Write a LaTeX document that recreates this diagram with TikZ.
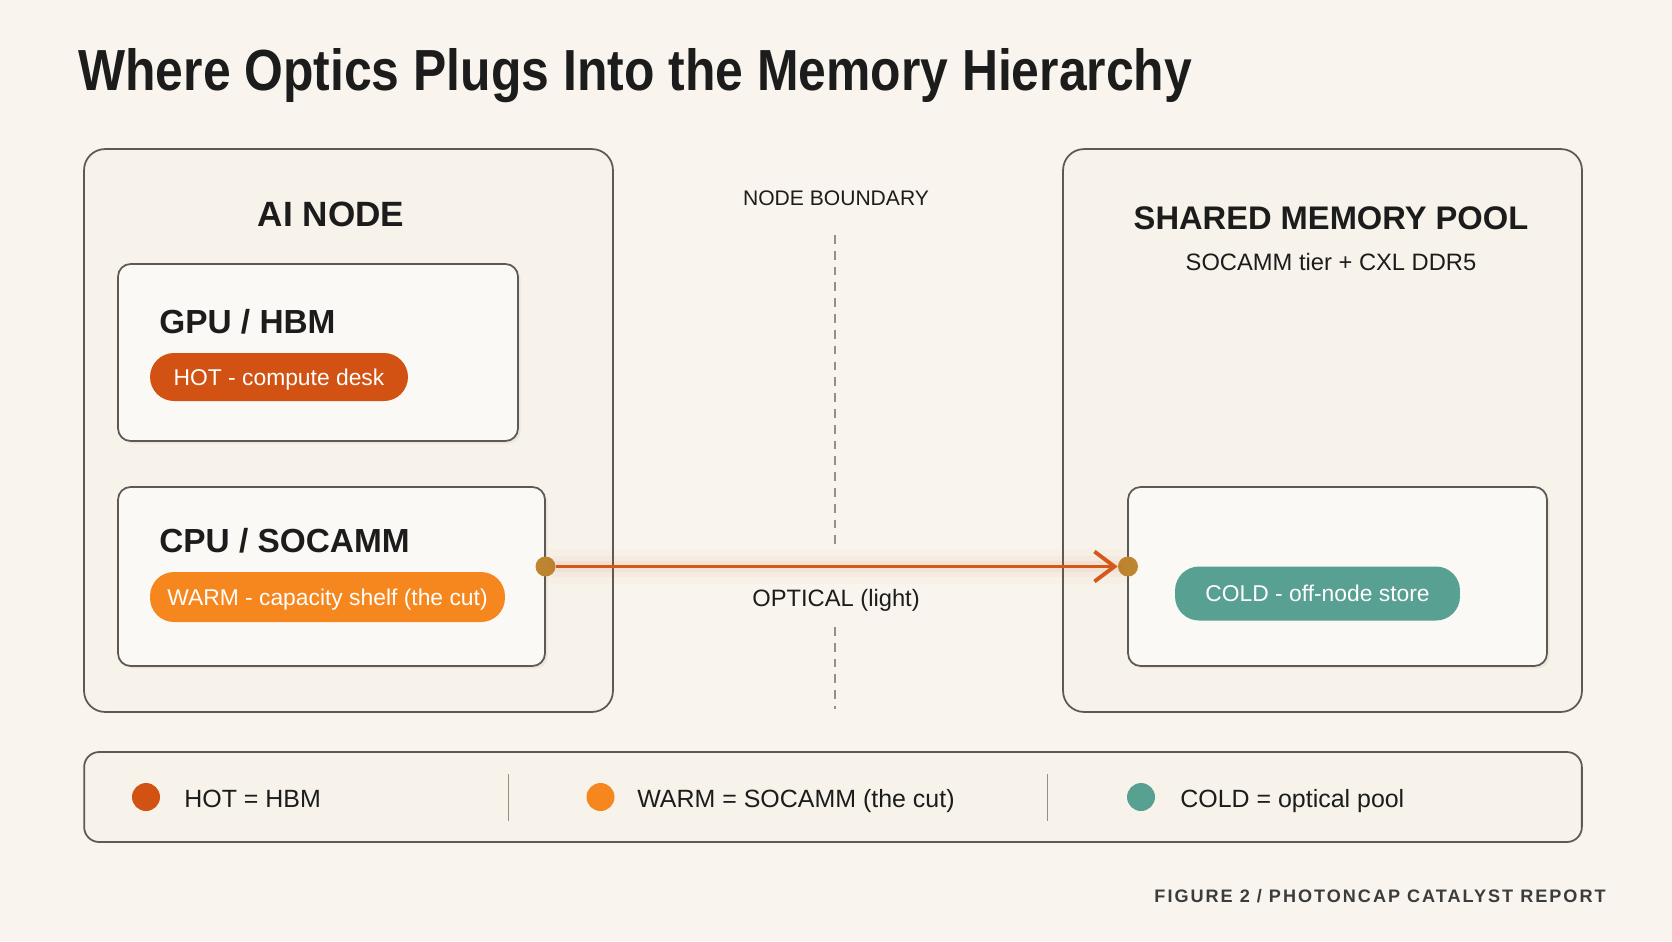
\documentclass[tikz,border=0pt]{standalone}
\usepackage{fontspec}
\setmainfont{Liberation Sans}
\newfontfamily\titlefont[FakeStretch=0.86]{Liberation Sans Bold}
\newfontfamily\footfont[LetterSpace=11]{Liberation Sans Bold}
\usetikzlibrary{arrows.meta, positioning, shadows}
\definecolor{paper}{RGB}{249,245,238}
\definecolor{panelcol}{RGB}{247,243,235}
\definecolor{unitcol}{RGB}{251,249,245}
\definecolor{edgecol}{RGB}{94,89,83}
\definecolor{ink}{RGB}{28,28,28}
\definecolor{hotcol}{RGB}{210,82,20}
\definecolor{warmcol}{RGB}{246,134,30}
\definecolor{coldcol}{RGB}{88,160,146}
\definecolor{portcol}{RGB}{190,135,50}
\definecolor{wire}{RGB}{214,88,24}
\definecolor{dashcol}{RGB}{150,143,134}
\definecolor{footcol}{RGB}{60,60,60}

\begin{document}
\begin{tikzpicture}[
    x=0.02cm, y=-0.02cm,
    panel/.style={draw=edgecol, line width=1pt, fill=panelcol, rounded corners=0.42cm},
    unit/.style={draw=edgecol, line width=1pt, fill=unitcol, rounded corners=0.25cm, drop shadow={opacity=0.10, shadow xshift=1.5pt, shadow yshift=-1.5pt}},
    pill/.style={rounded corners=0.48cm, text=white, font=\fontsize{13}{15}\selectfont, text height=9.4pt, text depth=0pt, inner sep=0pt},
    head/.style={font=\fontsize{19}{22}\selectfont\bfseries, text=ink, inner sep=0pt},
    note/.style={font=\fontsize{13.5}{16}\selectfont, text=ink, inner sep=0pt},
    legtext/.style={font=\fontsize{14.2}{17}\selectfont, text=ink, inner sep=0pt, anchor=base west},
    port/.style={circle, fill=portcol, inner sep=0pt, minimum size=0.4cm},
    swatch/.style={circle, inner sep=0pt, minimum size=0.56cm},
    boundary/.style={draw=dashcol, line width=0.8pt, dash pattern=on 5pt off 4pt},
    arrow/.style={-{Straight Barb[length=4mm, width=6mm]}, line width=2.2pt, draw=wire}
]
    \useasboundingbox (0,0) rectangle (1672,941);
    \fill[paper] (0,0) rectangle (1672,941);

    % Title
    \node[anchor=base west, inner sep=0pt, text=ink, font=\titlefont\fontsize{33}{38}\selectfont] (title) at (78,90) {Where Optics Plugs Into the Memory Hierarchy};

    % Outer panels
    \node[panel, minimum width=10.58cm, minimum height=11.26cm] (ainode) at (348.5,430.5) {};
    \node[panel, minimum width=10.38cm, minimum height=11.26cm] (pool) at (1322.5,430.5) {};
    \node[head, font=\fontsize{20}{24}\selectfont\bfseries, anchor=base] (aititle) at (331,226) {AI NODE};
    \node[head, font=\fontsize{18.6}{22}\selectfont\bfseries, anchor=base] (pooltitle) at (1331,229) {SHARED MEMORY POOL};
    \node[note, anchor=base] (poolsub) at (1331,270) {SOCAMM tier + CXL DDR5};

    % Memory tiers
    \node[unit, minimum width=8cm, minimum height=3.54cm] (gpu) at (318,352.5) {};
    \node[unit, minimum width=8.54cm, minimum height=3.58cm] (cpu) at (331.5,576.5) {};
    \node[unit, minimum width=8.38cm, minimum height=3.58cm] (cold) at (1337.5,576.5) {};

    \node[head, anchor=base west] (gputitle) at (159,333) {GPU / HBM};
    \node[head, anchor=base west] (cputitle) at (159,552) {CPU / SOCAMM};

    \node[pill, fill=hotcol, minimum width=5.16cm, minimum height=0.96cm] (hot) at (279,377) {HOT - compute desk};
    \node[pill, fill=warmcol, minimum width=7.1cm, minimum height=1cm] (warm) at (327.5,597) {WARM - capacity shelf (the cut)};
    \node[pill, fill=coldcol, minimum width=5.7cm, minimum height=1.08cm] (coldpill) at (1317.5,593.5) {COLD - off-node store};

    % Node boundary
    \node[note, font=\fontsize{12}{14}\selectfont, anchor=base] (boundlbl) at (836,205) {NODE BOUNDARY};
    \coordinate (bnd1) at (835,235);
    \coordinate (bnd2) at (835,550);
    \coordinate (bnd3) at (835,627);
    \coordinate (bnd4) at (835,709);
    \draw[boundary] (bnd1) -- (bnd2);
    \draw[boundary] (bnd3) -- (bnd4);

    % Optical link
    \node[port] (outport) at (545.5,566.5) {};
    \node[port] (inport) at (1128,566.5) {};
    \draw[wire, line width=20pt, line cap=round, opacity=0.025] (outport) -- (inport);
    \draw[wire, line width=12pt, line cap=round, opacity=0.035] (outport) -- (inport);
    \draw[wire, line width=6pt, line cap=round, opacity=0.05] (outport) -- (inport);
    \draw[arrow] (outport) -- (inport);
    \node[note, anchor=base] (optlbl) at (836,606) {OPTICAL (light)};

    % Legend
    \node[panel, rounded corners=0.3cm, minimum width=29.96cm, minimum height=1.8cm] (legend) at (833,797) {};
    \node[swatch, fill=hotcol] (hotdot) at (146,797) {};
    \node[swatch, fill=warmcol] (warmdot) at (600.5,797) {};
    \node[swatch, fill=coldcol] (colddot) at (1141,797) {};
    \node[legtext] (hotkey) at (184,807) {HOT = HBM};
    \node[legtext] (warmkey) at (637,807) {WARM = SOCAMM (the cut)};
    \node[legtext] (coldkey) at (1180,807) {COLD = optical pool};
    \draw[dashcol, line width=0.8pt] (508.5,774) -- (508.5,821);
    \draw[dashcol, line width=0.8pt] (1047.5,774) -- (1047.5,821);

    % Footer
    \node[anchor=base east, inner sep=0pt, text=footcol, font=\footfont\fontsize{10.3}{12}\selectfont] (footer) at (1606,902) {FIGURE 2 / PHOTONCAP CATALYST REPORT};
\end{tikzpicture}
\end{document}
